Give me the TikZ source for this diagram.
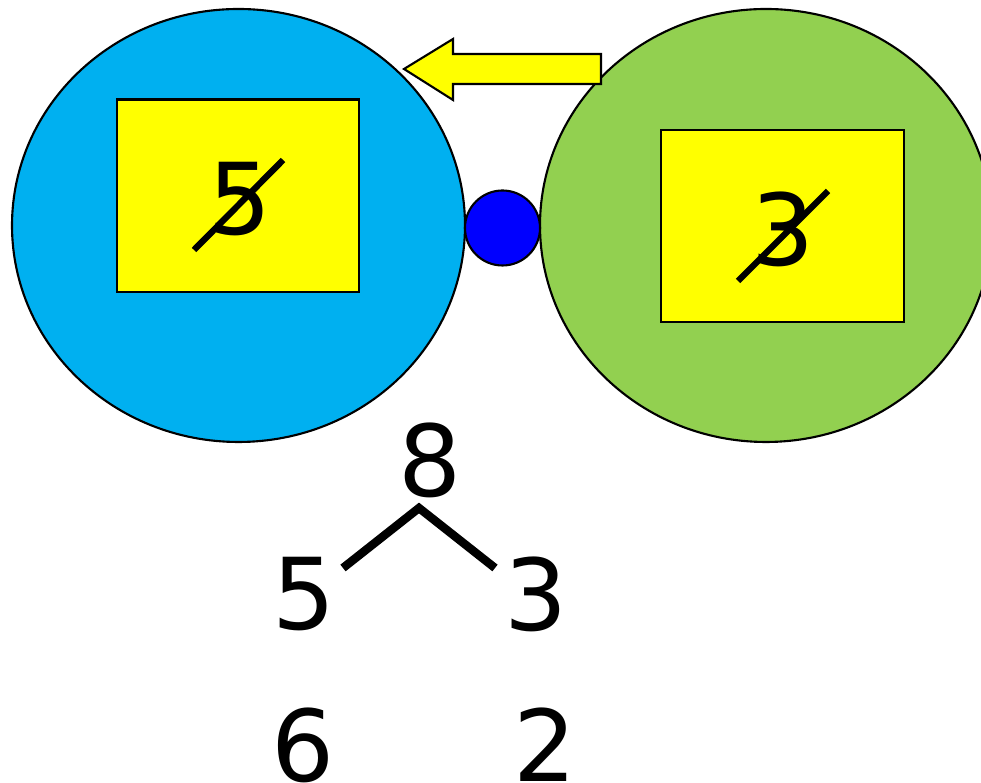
\documentclass[tikz,border=0pt]{standalone}
\usepackage{fontspec}
\setmainfont{DejaVu Sans}
\usetikzlibrary{positioning}
\definecolor{cblue}{HTML}{00B0F0}
\definecolor{cgreen}{HTML}{92D050}
\definecolor{cyel}{HTML}{FFFF00}
\definecolor{cdot}{HTML}{0000FF}
\tikzset{
  digit/.style={inner sep=0pt, font=\fontsize{28.2}{34}\selectfont},
  bigoval/.style={draw=black, line width=0.6pt},
  ybox/.style={draw=black, fill=cyel, line width=0.6pt},
  strike/.style={line width=1.8pt},
  treeline/.style={line width=2.4pt},
}
\begin{document}
\begin{tikzpicture}[x=0.01cm,y=-0.01cm]
\useasboundingbox (0,0) rectangle (981,783);
\clip (0,0) rectangle (981,783);
% big ovals
\draw[bigoval, fill=cblue] (238.5,225.5) ellipse [x radius=226.5, y radius=216.5];
\draw[bigoval, fill=cgreen] (766,225.5) ellipse [x radius=226, y radius=216.5];
% small dot
\node[circle, draw=black, fill=cdot, line width=0.6pt, minimum size=75*0.01cm, inner sep=0pt] (dot) at (502.5,228) {};
% yellow boxes
\draw[ybox] (117,99.5) rectangle (359,292);
\draw[ybox] (661,130) rectangle (904,322);
\node[digit] (b5) at (240,199) {5};
\node[digit] (b3) at (783,229) {3};
\coordinate (s5a) at (194,250); \coordinate (s5b) at (283,160);
\coordinate (s3a) at (738,281); \coordinate (s3b) at (828,191);
\draw[strike] (s5a) -- (s5b);
\draw[strike] (s3a) -- (s3b);
% arrow
\draw[fill=cyel, line width=0.6pt, line join=miter]
  (404,69) -- (453,39) -- (453,54) -- (601,54) -- (601,84) -- (453,84) -- (453,100) -- cycle;
% number bond
\node[digit] (n8) at (430,460) {8};
\node[digit] (n5) at (304,594) {5};
\node[digit] (n3) at (536,594) {3};
\node[digit] (n6) at (303,745) {6};
\node[digit] (n2) at (545,745) {2};
\coordinate (tl) at (343,568);
\coordinate (tt) at (419,508);
\coordinate (tr) at (495,568);
\draw[treeline] (tl) -- (tt) -- (tr);
\end{tikzpicture}
\end{document}
